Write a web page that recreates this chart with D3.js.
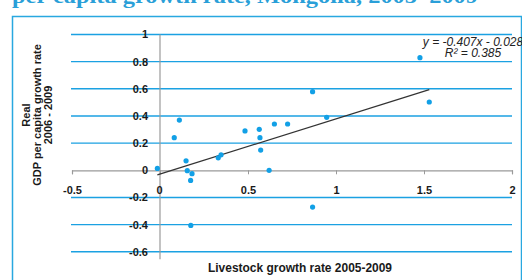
<!DOCTYPE html>
<html>
<head>
<meta charset="utf-8">
<script src="https://cdn.jsdelivr.net/npm/d3@7"></script>
<style>
  body { margin: 0; background: #fff; }
  svg { display: block; font-family: "Liberation Sans", Arial, sans-serif; }
</style>
</head>
<body>
<svg id="chart"></svg>
<script>
// livestock growth rate 2005-2009 (x) vs real GDP per capita growth 2006-2009 (y)
const livestock = [-0.015, 0.081, 0.11, 0.148, 0.155, 0.182, 0.174, 0.175, 0.331, 0.347, 0.483,
  0.564, 0.568, 0.572, 0.62, 0.65, 0.725, 0.867, 0.867, 0.947, 1.477, 1.53];
const gdp = [0.014, 0.24, 0.37, 0.07, -0.003, -0.025, -0.075, -0.406, 0.092, 0.114, 0.29,
  0.302, 0.24, 0.149, 0.0, 0.341, 0.341, 0.579, -0.271, 0.39, 0.829, 0.503];

const xTicks = [-0.5, 0, 0.5, 1, 1.5, 2];
const yTicks = [-0.6, -0.4, -0.2, 0, 0.2, 0.4, 0.6, 0.8, 1];
const trend = { slope: 0.407, intercept: -0.028 };
const eqLines = ['y = -0.407x - 0.028', 'R² = 0.385'];

const width = 522;
const height = 280;
const blue = '#1ba1e2';

const svg = d3.select('#chart').attr('width', width).attr('height', height);

const xScale = d3.scaleLinear().domain([-0.5, 2]).range([72, 512]);
const yScale = d3.scaleLinear().domain([-0.6, 1]).range([251.75, 34.5]);

// title, cut off by the top edge
svg.append('text')
  .attr('x', 12)
  .attr('y', 3)
  .attr('textLength', 466)
  .attr('lengthAdjust', 'spacingAndGlyphs')
  .style('font-family', '"Liberation Serif", "Times New Roman", serif')
  .style('font-weight', 'bold')
  .style('font-size', '20px')
  .style('fill', '#2a9fd8')
  .text('per capita growth rate, Mongolia, 2005–2009');

// frame
svg.append('rect')
  .attr('x', 12.5)
  .attr('y', 16.5)
  .attr('width', 509)
  .attr('height', 280)
  .style('fill', 'none')
  .style('stroke', '#29a8e0')
  .style('stroke-width', 1.5);

// horizontal gridlines (not at 0, that's the axis)
svg.append('g')
  .selectAll('line')
  .data(yTicks.filter(d => d !== 0))
  .enter()
  .append('line')
  .attr('x1', 71)
  .attr('x2', 512)
  .attr('y1', d => yScale(d))
  .attr('y2', d => yScale(d))
  .style('stroke', blue)
  .style('stroke-width', 1.4);

// y axis line at x = 0
svg.append('line')
  .attr('x1', xScale(0))
  .attr('x2', xScale(0))
  .attr('y1', yScale(1))
  .attr('y2', yScale(-0.655))
  .style('stroke', '#9a9a9a')
  .style('stroke-width', 1.2);

// x axis along y = 0
const xAxis = d3.axisBottom(xScale)
  .tickValues(xTicks)
  .tickSize(4)
  .tickPadding(12)
  .tickFormat(d => d);

const gx = svg.append('g')
  .attr('transform', `translate(0, ${yScale(0)})`)
  .call(xAxis);
gx.select('.domain').style('stroke', '#9a9a9a').style('stroke-width', 1.2);
gx.selectAll('.tick line').style('stroke', '#9a9a9a');
gx.selectAll('.tick text')
  .style('font-size', '11px')
  .style('font-weight', 'bold')
  .style('fill', '#1a1a1a')
  .attr('dx', d => d === 0 ? -1 : 0);

// y tick labels, centred on gridlines
svg.append('g')
  .selectAll('text')
  .data(yTicks)
  .enter()
  .append('text')
  .attr('x', 148)
  .attr('y', d => yScale(d))
  .attr('dy', '0.36em')
  .style('text-anchor', 'end')
  .style('font-size', '11px')
  .style('font-weight', 'bold')
  .style('fill', '#1a1a1a')
  .text(d => d);

// trend line
const xMin = d3.min(livestock);
const xMax = d3.max(livestock);
svg.append('line')
  .attr('x1', xScale(xMin))
  .attr('y1', yScale(trend.slope * xMin + trend.intercept))
  .attr('x2', xScale(xMax))
  .attr('y2', yScale(trend.slope * xMax + trend.intercept))
  .style('stroke', '#333')
  .style('stroke-width', 1.3);

// points
svg.append('g')
  .selectAll('circle')
  .data(livestock.map((d, i) => ({ x: d, y: gdp[i] })))
  .enter()
  .append('circle')
  .attr('r', 2.6)
  .attr('cx', d => xScale(d.x))
  .attr('cy', d => yScale(d.y))
  .style('fill', '#12a0e6');

// equation
svg.append('g')
  .selectAll('text')
  .data(eqLines)
  .enter()
  .append('text')
  .attr('x', 473)
  .attr('y', (d, i) => 46 + i * 11)
  .style('text-anchor', 'middle')
  .style('font-size', '12px')
  .style('font-style', 'italic')
  .style('fill', '#222')
  .text(d => d);

// y axis title
const yTitle = svg.append('text')
  .attr('transform', 'translate(0, 115) rotate(-90)')
  .style('text-anchor', 'middle')
  .style('font-size', '11px')
  .style('font-weight', 'bold')
  .style('fill', '#1a1a1a');
['Real', 'GDP per capita growth rate', '2006 - 2009'].forEach((t, i) => {
  yTitle.append('tspan')
    .attr('x', 0)
    .attr('y', 30 + i * 11)
    .text(t);
});

// x axis title
svg.append('text')
  .attr('x', 300)
  .attr('y', 272)
  .attr('textLength', 184)
  .attr('lengthAdjust', 'spacingAndGlyphs')
  .style('text-anchor', 'middle')
  .style('font-family', '"Liberation Sans Narrow", "Arial Narrow", "Liberation Sans", sans-serif')
  .style('font-size', '12px')
  .style('font-weight', 'bold')
  .style('fill', '#1a1a1a')
  .text('Livestock growth rate 2005-2009');
</script>
</body>
</html>
